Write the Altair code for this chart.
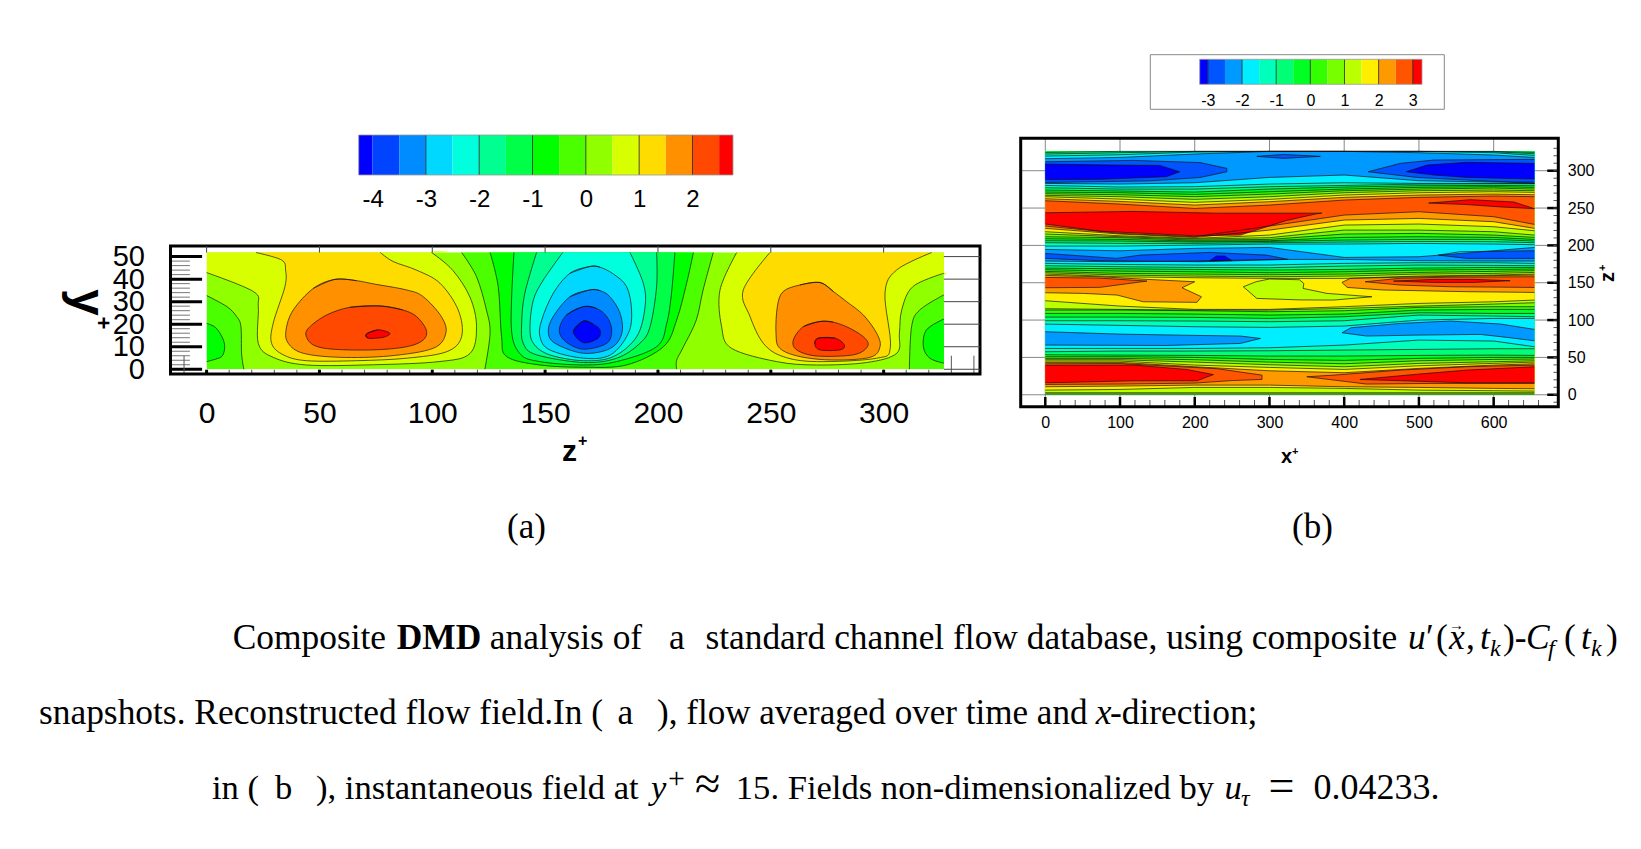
import altair as alt
import pandas as pd

W, H = 1625, 833

# ---------- colour bands ----------
COLORS_A = ["#0000ff", "#0044ff", "#008cff", "#00d8ff", "#00ffdc", "#00ff90", "#00ff48", "#00ff00",
            "#4cff00", "#90ff00", "#d8ff00", "#ffdc00", "#ff9000", "#ff4800", "#ff0000"]
EDGES_A = [-4.26, -4, -3.5, -3, -2.5, -2, -1.5, -1, -0.5, 0, 0.5, 1, 1.5, 2, 2.5, 2.76]
COLORS_B = ["#0000ff", "#0055ff", "#0099ff", "#00eeff", "#00ffbb", "#00ff77", "#00ff22",
            "#33ff00", "#77ff00", "#bbff00", "#ffee00", "#ff9900", "#ff5500", "#ff0000"]
EDGES_B = [-3.24, -3, -2.5, -2, -1.5, -1, -0.5, 0, 0.5, 1, 1.5, 2, 2.5, 3, 3.27]
BAR_TICKS_A = [-4, -3, -2, -1, 0, 1, 2]
BAR_LINES_A = [-3, -2, -1, 0, 1, 2]
BAR_TICKS_B = [-3, -2, -1, 0, 1, 2, 3]

# ---------- panel (a): contour regions, (band, [(z+, y+), ...]) in painting order ----------
A_ZMAX, A_YMAX = 326.7, 51.8
SHAPES_A = [
    (9, [(0, 0), (326.7, 0), (326.7, 51.8), (0, 51.8)]),
    (8, [(0, 32.7), (9, 27.8), (13.3, 23.4), (15.2, 19), (15.5, 7), (16.5, 0), (0, 0)]),
    (7, [(0, 20.4), (4, 18.5), (7, 14), (8, 10), (7, 6), (4, 4.5), (0, 3.4)]),
    (10, [(0, 42.9), (20.7, 34.5), (22.9, 27.8), (22.9, 11.5), (29.5, 5.3), (44.3, 1.9), (73.9, 2), (103, 3.4),
          (116.7, 7), (119.6, 19), (116.7, 32), (109, 44), (99.7, 51.8), (0, 51.8)]),
    (11, [(21.9, 51.8), (33.2, 48.5), (35, 44), (34.7, 36.7), (29.5, 20.4), (28.8, 11.5), (34, 6.4), (44.3, 3.8),
          (66.5, 3.8), (88.6, 4.9), (106.4, 7.8), (113, 14.5), (111.5, 26.3), (103.4, 38.2), (93, 44), (82.7, 47.8),
          (77, 51.8)]),
    (12, [(56.9, 39.9), (47.3, 35.9), (38.4, 26.3), (35.2, 17.5), (36.2, 11.5), (42.8, 7.1), (59, 5.3), (81, 5.9),
          (100.4, 9.3), (106, 16), (104, 23.4), (96, 32.2), (88.6, 35.2), (73.9, 37.9), (66.5, 39.3)]),
    (13, [(76.8, 28.1), (63.5, 27.5), (53.2, 24.1), (45.8, 18.9), (44, 15.2), (47.3, 10.8), (56, 8.9), (73.9, 8.6),
          (88.6, 10), (96, 13), (97.3, 17.5), (93, 23.4), (87, 26.3)]),
    (14, [(70.9, 15.7), (76, 17.5), (81.2, 16), (78.3, 14.2), (71.6, 13.8)]),
    (8, [(113, 51.8), (119.6, 41.1), (124, 26.3), (125.6, 16), (123.3, 0), (208.3, 0), (208.3, 4), (211.3, 10),
         (217, 21.9), (220, 35.2), (224.5, 51.8)]),
    (7, [(125.6, 51.8), (129.2, 36.7), (130.7, 14.5), (133, 5.6), (147.7, 1.9), (167, 0.9), (186, 1.9), (202.4, 10),
         (208.3, 21.9), (212.7, 38.2), (215.7, 51.8)]),
    (6, [(136.2, 51.8), (135, 19), (138.8, 7), (147.7, 3.4), (167, 1.9), (181.7, 3.4), (199.4, 10), (203.9, 20.4),
         (206, 33.7), (207.5, 51.8)]),
    (5, [(146.2, 51.8), (141, 33.7), (139.6, 20.4), (140.3, 11.5), (146.2, 6.4), (167, 3), (181.7, 4.9), (192, 11.5),
         (196.5, 18.9), (199.4, 36.7), (199.4, 51.8)]),
    (4, [(157.8, 51.8), (149.2, 39.6), (144.8, 30.8), (143.3, 18.9), (144.8, 11.5), (152, 6.4), (167, 3.8),
         (180.2, 5.6), (190.6, 14.5), (194.3, 27.8), (193.5, 38.2), (187.6, 51.8)]),
    (3, [(169.8, 45.6), (161, 42.6), (153.6, 33.7), (148.5, 21.9), (147.7, 14.5), (152, 8.6), (167, 4.9), (179, 6.4),
         (186.9, 16), (188.3, 26.3), (186.1, 36.7), (180.2, 42.3), (174.3, 45.3)]),
    (2, [(169.8, 35.2), (161, 32.2), (153.6, 23.4), (151.4, 16.7), (154.4, 11.5), (167, 7.1), (179, 9.3), (184, 16),
         (183.2, 24.9), (178.7, 32.2), (174.3, 34.9)]),
    (1, [(167, 27.8), (159.5, 24.1), (156.3, 17.5), (159, 12.3), (167, 8.9), (177.3, 11.5), (179.5, 17.5),
         (177.3, 23.4), (172.8, 27)]),
    (0, [(166.9, 21.4), (162.5, 16.7), (167, 11.8), (173.5, 13.8), (174.3, 17.5), (171.3, 20)]),
    (10, [(234.9, 51.8), (227.5, 35.2), (228.2, 18.9), (232.6, 9.3), (252.6, 3.4), (270.3, 1.9), (292.5, 3),
          (305.8, 7.1), (307, 16), (308, 26.3), (313, 36.7), (326.7, 42.6), (326.7, 51.8)]),
    (11, [(249.6, 51.8), (237.8, 35.2), (240.8, 23.4), (246.7, 11.5), (255.5, 5.6), (270.3, 3.4), (296.9, 4.9),
          (303, 10), (300.6, 33.7), (305.7, 44), (321.3, 51.8)]),
    (12, [(271.8, 38.5), (262.9, 37.4), (255.5, 34.5), (252.9, 27.8), (252.3, 16), (254, 9.3), (263, 5.6),
          (277.7, 4.1), (294, 5.3), (298.4, 10), (296.9, 16), (291, 24.1), (283.6, 30), (277.7, 34.5)]),
    (13, [(271.8, 21.2), (264.4, 18.9), (260, 13), (261.5, 8.6), (270.3, 5.9), (286.6, 6.4), (292.8, 10),
          (291.7, 13.8), (285, 18.2), (277.7, 20.9)]),
    (14, [(271, 13.8), (278.5, 13.8), (282.6, 10.8), (280.7, 8.6), (271.8, 8.6), (269.5, 11.2)]),
    (8, [(326.7, 33), (316, 26.3), (312.4, 19), (311.4, 0), (326.7, 0)]),
    (7, [(326.7, 22.3), (319, 17.5), (317.6, 10), (320.5, 4.9), (326.7, 2.7)]),
]

# ---------- panel (b): contour curves over x+ columns and closed islands, in painting order ----------
B_XMAX, B_ZMAX = 654.5, 325.9
XCOLS = [0, 100, 200, 300, 400, 500, 600, 654.5]
SHAPES_B = [
    ("base", 7, [0, 0, 0, 0, 0, 0, 0, 0]),
    ("curve", 8, [1, 1, 1, 1, 1, 1, 1, 1]),
    ("curve", 9, [2.7, 2.7, 2.7, 2.7, 2.7, 2.7, 2.7, 2.7]),
    ("curve", 10, [6.2, 7.1, 9.8, 9.8, 8.5, 6.2, 5.4, 4.9]),
    ("curve", 11, [10.7, 11.6, 12.9, 12.9, 10.7, 9.8, 8.5, 8]),
    ("poly", 12, [(0, 13.8), (100, 14.3), (200, 15.6), (250, 19), (290, 20.5), (290, 26.3), (229, 35), (200, 36.5), (100, 41.8), (0, 41.5)]),
    ("poly", 12, [(350, 24.1), (430, 14.3), (520, 15.2), (654.5, 15.2), (654.5, 39.7), (564, 37.5), (475, 33), (386, 26.3)]),
    ("poly", 13, [(0, 39.4), (118, 39.8), (189, 33.9), (225, 27), (203, 18.8), (118, 18.7), (47, 17), (0, 16)]),
    ("poly", 13, [(421, 20.5), (500, 27.7), (564, 33), (654.5, 37.5), (654.5, 16), (564, 16), (475, 18.8)]),
    ("curve", 10, [43.3, 43.3, 37.5, 32.1, 29.5, 35.3, 39.7, 41.5]),
    ("curve", 9, [45.1, 45.1, 39.7, 36.6, 33.9, 38.8, 42, 43.7]),
    ("curve", 8, [46.9, 46.9, 43.7, 40.2, 37.5, 42, 44.2, 45.5]),
    ("curve", 7, [48.7, 48.7, 46.9, 43.7, 41.5, 45.5, 47.3, 47.8]),
    ("curve", 6, [50.9, 50.9, 50, 47.3, 46, 48.7, 50, 50]),
    ("curve", 5, [53.6, 53.1, 52.7, 51.8, 51.8, 52.7, 53.1, 52.7]),
    ("curve", 4, [57.6, 58.5, 58.5, 58.9, 59.8, 60.7, 61.6, 61.6]),
    ("curve", 3, [62, 62, 62, 62.9, 66.5, 73.2, 71.9, 64.3]),
    ("poly", 2, [(0, 84.4), (100, 81.2), (200, 79.5), (261, 78.6), (288, 75.4), (261, 68.7), (162, 66), (0, 66.5)]),
    ("poly", 2, [(397, 83), (409, 89.7), (475, 95.5), (542, 98.7), (609, 94.7), (654.5, 87.5), (654.5, 72.3), (618, 76.8), (582, 80.8), (500, 79.9), (430, 78.6)]),
    ("curve", 4, [94.6, 92.9, 91.1, 90.2, 92, 100, 102.2, 102.2]),
    ("curve", 5, [99.1, 99.1, 98.7, 97.8, 99.1, 106.7, 105.4, 104.5]),
    ("curve", 6, [104, 104, 103.6, 102.2, 104.5, 109.8, 108.9, 108.9]),
    ("curve", 7, [108.9, 108.9, 108, 106.7, 108, 113.4, 114.3, 114.3]),
    ("curve", 8, [113.4, 113.4, 112.5, 111.2, 112.5, 117, 117.9, 117.9]),
    ("curve", 9, [115.2, 114.3, 113.4, 113.4, 115.6, 118.7, 121.4, 123.2]),
    ("curve", 10, [125.9, 118.7, 114.3, 114.3, 117.9, 122.3, 124.5, 126.8]),
    ("poly", 9, [(265, 144.6), (283, 129), (341, 127), (386, 126.8), (437, 131.2), (377, 135.7), (345, 142.4), (346, 149), (340, 154), (300, 155), (282, 151.3)]),
    ("poly", 11, [(0, 136.6), (51, 135.7), (96, 133.5), (131, 124.5), (203, 123.7), (209, 131.2), (183, 143.3), (200, 151.3), (136, 154.5), (73, 158), (0, 159.8)]),
    ("poly", 11, [(397, 150.4), (404, 143.7), (453, 140.2), (500, 139.3), (564, 138), (654.5, 137), (654.5, 160.3), (564, 159), (475, 157.5), (408, 155.8)]),
    ("poly", 12, [(0, 143.3), (73, 143.8), (136, 152.2), (73, 156.2), (0, 157.1)]),
    ("poly", 12, [(428, 151.3), (475, 146.9), (542, 144.6), (654.5, 143.7), (654.5, 158), (542, 157.5), (475, 156)]),
    ("poly", 13, [(466, 152.2), (520, 154.5), (573, 154.5), (622, 152.7), (573, 150.4), (520, 150.4)]),
    ("curve", 9, [161.6, 158, 156.7, 155.8, 155.8, 158.9, 160.3, 161.6]),
    ("curve", 8, [163.4, 160.3, 158.9, 158, 158.9, 161.6, 162.5, 163.8]),
    ("curve", 7, [165.2, 162.5, 161.6, 160.7, 161.6, 163.8, 165.2, 166.1]),
    ("curve", 6, [167.4, 165.6, 164.7, 163.4, 164.7, 167, 167.8, 168.3]),
    ("curve", 5, [169.6, 168.7, 167.8, 167, 167.8, 169.6, 170.5, 170.5]),
    ("curve", 4, [172.8, 171.4, 170.5, 170.1, 172.3, 173.7, 173.2, 172.8]),
    ("curve", 3, [175.9, 174.5, 173.7, 173.7, 175.9, 176.8, 176.8, 175.9]),
    ("curve", 2, [179, 178.1, 179, 181.2, 181.2, 179.5, 179, 179]),
    ("poly", 1, [(0, 189.3), (95.5, 182.6), (127, 187), (220, 190.6), (296, 187), (325, 181.2), (207, 178.1), (73, 179.5), (0, 182.6)]),
    ("poly", 0, [(220, 179.5), (229, 185.7), (240, 185.7), (250, 179.5)]),
    ("poly", 1, [(526, 187), (555, 191.5), (654.5, 192.8), (654.5, 182.6), (564, 182.6)]),
    ("curve", 3, [194.6, 192.8, 196, 197.3, 183.9, 184.8, 192.8, 197.3]),
    ("curve", 4, [199.1, 199.1, 200.4, 201.8, 201.8, 202.7, 201.8, 200.9]),
    ("curve", 5, [203.6, 202.7, 202.7, 203.6, 204.5, 205.3, 204.9, 203.6]),
    ("curve", 6, [206.2, 205.8, 204.5, 205.3, 207.1, 208, 208, 205.8]),
    ("curve", 7, [208.9, 208, 205.8, 206.2, 210.7, 211.6, 210.7, 208]),
    ("curve", 8, [211.6, 210.3, 207.1, 208, 215.2, 216.1, 213.8, 210.7]),
    ("curve", 9, [215.2, 211.6, 208.5, 210.3, 220.5, 220.5, 218.3, 213.8]),
    ("curve", 10, [218.3, 212.9, 209.4, 213.8, 227.2, 228.6, 225, 219.6]),
    ("curve", 11, [222.8, 215.2, 210.7, 220.5, 233.9, 236.1, 231.7, 222.8]),
    ("curve", 12, [225.9, 216.1, 211.6, 225.9, 240.6, 245.1, 238.4, 228.1]),
    ("poly", 13, [(0, 243.7), (118, 245.5), (229, 243.2), (363, 243.2), (370, 243.2), (363, 242.3), (323, 233.4), (261, 213.8), (200, 212.9), (73, 219), (0, 228.6)]),
    ("poly", 13, [(513, 256.7), (569, 261.2), (627, 258.1), (654.5, 249.2), (609, 251.5), (564, 254.7)]),
    ("curve", 11, [259.8, 255.3, 249.5, 254, 260.7, 264.3, 266.1, 265.2]),
    ("curve", 10, [262.5, 258.9, 254, 258.5, 264.3, 267.4, 268.7, 267.8]),
    ("curve", 9, [265.2, 262, 257.6, 261.6, 267.4, 270.5, 271.9, 271]),
    ("curve", 8, [267, 265.2, 261.6, 265.2, 270.5, 273.2, 274.1, 273.2]),
    ("curve", 7, [269.2, 267.8, 265.2, 268.7, 273.2, 275.4, 276.8, 275.4]),
    ("curve", 6, [271.4, 270.5, 268.3, 271.9, 275.4, 277.7, 278.6, 277.7]),
    ("curve", 5, [274.1, 272.8, 271.4, 275.4, 278.1, 279.9, 280.3, 279.9]),
    ("curve", 4, [277.2, 275.4, 275.4, 278.6, 280.3, 282.1, 282.6, 282.6]),
    ("curve", 3, [280.3, 278.1, 278.6, 282.1, 283.9, 283, 283, 283]),
    ("curve", 2, [283, 282.1, 283.9, 291, 294.2, 286.6, 284.8, 284.8]),
    ("poly", 1, [(0, 312), (118, 313.8), (207, 310.9), (243, 303.1), (243, 298.6), (207, 290.9), (140, 286.4), (0, 284.2)]),
    ("poly", 0, [(0, 308.9), (91, 307.6), (153, 307.1), (180, 298.6), (162, 292), (73, 288.4), (0, 287.9)]),
    ("poly", 1, [(432, 298.6), (475, 309.8), (520, 314.3), (654.5, 315.2), (654.5, 283), (564, 287.5), (497, 291)]),
    ("poly", 0, [(483, 298.6), (511, 307.6), (564, 311.2), (654.5, 309.8), (654.5, 288.8), (564, 291), (520, 294.2)]),
    ("poly", 1, [(283, 319.2), (319, 321.8), (368, 319.2), (319, 316.5)]),
    ("curve", 3, [316.1, 317.8, 322.3, 325.9, 325.9, 324.1, 321, 317.8]),
    ("curve", 4, [319.6, 321.4, 325, 325.9, 325.9, 325.9, 324.1, 320.5]),
    ("curve", 5, [322.3, 324.1, 325.9, 325.9, 325.9, 325.9, 325.4, 322.7]),
    ("curve", 6, [324.5, 325.9, 325.9, 325.9, 325.9, 325.9, 325.9, 324.5]),
]

# ---------- tick values ----------
A_X_MAJOR = [0, 50, 100, 150, 200, 250, 300]
A_X_MINOR = list(range(10, 330, 10))
A_X_OUT = [-10, 330, 340]
A_Y_MAJOR = [0, 10, 20, 30, 40, 50]
A_Y_MINOR = list(range(2, 52, 2))
B_X_MAJOR = [0, 100, 200, 300, 400, 500, 600]
B_X_MINOR = list(range(20, 680, 20))
B_Y_MAJOR = [0, 50, 100, 150, 200, 250, 300]
B_Y_MINOR = list(range(-10, 340, 10))

# ---------- texts ----------
SERIF = "Liberation Serif"
SANS = "Liberation Sans"
C1 = 35.4
C2 = 35.1
C3 = 34.6
TEXTS = [
    # text, page x, page y, size, weight, style, font, angle
    ("Composite", 232.7, 649, C1, "normal", "normal", SERIF, 0),
    ("DMD", 396.7, 649, C1, "bold", "normal", SERIF, 0),
    ("analysis of", 489.8, 649, C1, "normal", "normal", SERIF, 0),
    ("a", 669, 649, C1, "normal", "normal", SERIF, 0),
    ("standard channel flow database, using composite", 705.4, 649, C1, "normal", "normal", SERIF, 0),
    ("u", 1408, 649, C1, "normal", "italic", SERIF, 0),
    ("′", 1426, 649, C1, "normal", "normal", SERIF, 0),
    ("(", 1436, 649, C1, "normal", "normal", SERIF, 0),
    ("x", 1449, 649, C1, "normal", "italic", SERIF, 0),
    ("→", 1449, 630, 15, "normal", "normal", SERIF, 0),
    (",", 1466, 649, C1, "normal", "normal", SERIF, 0),
    ("t", 1480, 649, C1, "normal", "italic", SERIF, 0),
    ("k", 1490, 656, 24, "normal", "italic", SERIF, 0),
    (")-", 1503, 649, C1, "normal", "normal", SERIF, 0),
    ("C", 1526, 649, C1, "normal", "italic", SERIF, 0),
    ("f", 1548, 656, 24, "normal", "italic", SERIF, 0),
    ("(", 1564, 649, C1, "normal", "normal", SERIF, 0),
    ("t", 1581, 649, C1, "normal", "italic", SERIF, 0),
    ("k", 1591, 656, 24, "normal", "italic", SERIF, 0),
    (")", 1606, 649, C1, "normal", "normal", SERIF, 0),
    ("snapshots. Reconstructed flow field.In (", 39, 724, C1, "normal", "normal", SERIF, 0),
    ("a", 617.5, 724, C1, "normal", "normal", SERIF, 0),
    ("), flow averaged over time and", 657, 724, C2, "normal", "normal", SERIF, 0),
    ("x", 1095.8, 724, C1, "normal", "italic", SERIF, 0),
    ("-direction;", 1110, 724, C1, "normal", "normal", SERIF, 0),
    ("in (", 212, 799, C3, "normal", "normal", SERIF, 0),
    ("b", 275, 799, C3, "normal", "normal", SERIF, 0),
    ("), instantaneous field at", 316, 799, C3, "normal", "normal", SERIF, 0),
    ("y", 651, 799, C3, "normal", "italic", SERIF, 0),
    ("+", 668, 788, 30, "normal", "normal", SERIF, 0),
    ("≈", 695, 799, 46, "normal", "normal", SERIF, 0),
    ("15. Fields non-dimensionalized by", 735.8, 799, C3, "normal", "normal", SERIF, 0),
    ("u", 1224.5, 799, C3, "normal", "italic", SERIF, 0),
    ("τ", 1241, 806, 24, "normal", "italic", SERIF, 0),
    ("=", 1268.5, 801, 46, "normal", "normal", SERIF, 0),
    ("0.04233.", 1313.5, 799, 36, "normal", "normal", SERIF, 0),
    ("(a)", 507, 538, 35, "normal", "normal", SERIF, 0),
    ("(b)", 1292, 538, 35, "normal", "normal", SERIF, 0),
    ("z", 562, 461, 30, "bold", "normal", SANS, 0),
    ("+", 578, 446, 16, "bold", "normal", SANS, 0),
    ("x", 1281, 463, 20, "bold", "normal", SANS, 0),
    ("+", 1292, 455, 11, "bold", "normal", SANS, 0),
    ("y", 72, 289, 48, "bold", "normal", SANS, 90),
    ("+", 96, 316.6, 22, "bold", "normal", SANS, 90),
    ("z", 1614, 282, 20, "bold", "normal", SANS, 270),
    ("+", 1605.6, 271, 11, "bold", "normal", SANS, 270),
]


# ---------- helpers ----------
def scale(dom, rng):
    return alt.Scale(domain=dom, range=rng, nice=False, zero=False)


def build(shapes, xmax, ymax, smooth):
    """Fill outlines and open contour runs; region edges are never stroked."""
    def on(p):
        return p[0] in (0, xmax) or p[1] in (0, ymax)

    def edge(p, q):
        return (p[0] == q[0] and p[0] in (0, xmax)) or (p[1] == q[1] and p[1] in (0, ymax))

    fills, lines = [], []
    path = 0
    for sid, (kind, band, raw) in enumerate(shapes):
        pts = list(raw) if kind == "poly" else list(zip(XCOLS, raw))
        closed = kind == "poly"
        fill_pts = list(pts) if closed else pts + [(xmax, ymax), (0, ymax)]
        touches = closed and any(edge(fill_pts[i], fill_pts[(i + 1) % len(fill_pts)]) for i in range(len(fill_pts)))
        if smooth:
            if touches:
                fill_pts = [q for p in fill_pts for q in ([p, p] if on(p) else [p])]
            else:
                fill_pts = [fill_pts[-1]] + fill_pts + fill_pts[:2]
        for i, (a, b) in enumerate(fill_pts):
            fills.append({"s": sid, "i": i, "a": a, "b": b, "band": band})
        if kind == "base":
            continue
        if not closed:
            runs = [pts]
        elif not touches:
            runs = [([pts[-1]] + pts + pts[:2]) if smooth else pts + pts[:1]]
        else:
            n = len(pts)
            start = next(i for i in range(n) if edge(pts[i - 1], pts[i]))
            cyc = [pts[(start + i) % n] for i in range(n + 1)]
            runs, cur = [], [cyc[0]]
            for p, q in zip(cyc, cyc[1:]):
                if edge(p, q):
                    if len(cur) > 1:
                        runs.append(cur)
                    cur = [q]
                else:
                    cur.append(q)
            if len(cur) > 1:
                runs.append(cur)
        for run in runs:
            path += 1
            for i, (a, b) in enumerate(run):
                lines.append({"p": path, "i": i, "a": a, "b": b})
    lines_df = pd.DataFrame(lines, columns=["p", "i", "a", "b"])
    return pd.DataFrame(fills), lines_df


def contour_layers(shapes, xmax, ymax, sx, sy, colors, smooth):
    f, l = build(shapes, xmax, ymax, smooth)
    bands = list(range(len(colors)))
    interp = "cardinal" if smooth else "linear"
    fill = alt.Chart(f).mark_line(strokeWidth=0, interpolate=interp).encode(
        x=alt.X("a:Q", scale=sx, axis=None),
        y=alt.Y("b:Q", scale=sy, axis=None),
        fill=alt.Fill("band:N", scale=alt.Scale(domain=bands, range=colors), legend=None),
        detail="s:N",
        order="i:Q",
    )
    line = alt.Chart(l).mark_line(stroke="#111111", strokeWidth=0.8, opacity=0.85, interpolate=interp).encode(
        x=alt.X("a:Q", scale=sx, axis=None),
        y=alt.Y("b:Q", scale=sy, axis=None),
        detail="p:N",
        order="i:Q",
    )
    return fill, line


def vrules(xs, y0, y1, sx, sy, width, color):
    d = pd.DataFrame({"x": xs, "y": y0, "y2": y1})
    return alt.Chart(d).mark_rule(strokeWidth=width, color=color).encode(
        x=alt.X("x:Q", scale=sx, axis=None), y=alt.Y("y:Q", scale=sy, axis=None), y2="y2:Q")


def hrules(ys, x0, x1, sx, sy, width, color):
    d = pd.DataFrame({"y": ys, "x": x0, "x2": x1})
    return alt.Chart(d).mark_rule(strokeWidth=width, color=color).encode(
        y=alt.Y("y:Q", scale=sy, axis=None), x=alt.X("x:Q", scale=sx, axis=None), x2="x2:Q")


def frame(x0, x1, y0, y1, sx, sy, width, color):
    d = pd.DataFrame({"x": [x0], "x2": [x1], "y": [y0], "y2": [y1]})
    return alt.Chart(d).mark_rect(fill="transparent", stroke=color, strokeWidth=width).encode(
        x=alt.X("x:Q", scale=sx, axis=None), x2="x2:Q", y=alt.Y("y:Q", scale=sy, axis=None), y2="y2:Q")


def margins(x0, x1, y0, y1, sx, sy):
    """White left and bottom margin of the frame, next to the data region."""
    d = pd.DataFrame({"x": [x0, x0], "x2": [0, x1], "y": [y0, y0], "y2": [y1, 0]})
    return alt.Chart(d).mark_rect(fill="#ffffff").encode(
        x=alt.X("x:Q", scale=sx, axis=None), x2="x2:Q", y=alt.Y("y:Q", scale=sy, axis=None), y2="y2:Q")


def num_axis(values, orient, offset, size, pad):
    return alt.Axis(values=values, orient=orient, offset=offset, title=None, grid=False, domain=False, ticks=False,
                    labelFontSize=size, labelFont=SANS, labelColor="#000000", labelPadding=pad,
                    labelOverlap=False, labelFlush=False, labelExpr="'' + datum.value")


def axis_x(values, sx, offset, size, pad):
    return alt.Chart(pd.DataFrame({"x": values})).mark_point(opacity=0).encode(
        x=alt.X("x:Q", scale=sx, axis=num_axis(values, "bottom", offset, size, pad)), y=alt.value(0))


def axis_y(values, sy, orient, offset, size, pad):
    return alt.Chart(pd.DataFrame({"y": values})).mark_point(opacity=0).encode(
        y=alt.Y("y:Q", scale=sy, axis=num_axis(values, orient, offset, size, pad)), x=alt.value(0))


def colorbar(edges, colors, line_vals, sx, top, bottom):
    d = pd.DataFrame({"x": edges[:-1], "x2": edges[1:], "band": list(range(len(colors)))})
    rects = alt.Chart(d).mark_rect().encode(
        x=alt.X("x:Q", scale=sx, axis=None),
        x2="x2:Q",
        y=alt.value(top), y2=alt.value(bottom),
        fill=alt.Fill("band:N", scale=alt.Scale(domain=d["band"].tolist(), range=colors), legend=None),
    )
    lines = alt.Chart(pd.DataFrame({"x": line_vals})).mark_rule(color="#222222", strokeWidth=0.8).encode(
        x=alt.X("x:Q", scale=sx, axis=None), y=alt.value(top), y2=alt.value(bottom))
    edge = alt.Chart(pd.DataFrame({"x": [edges[0]], "x2": [edges[-1]]})).mark_rect(
        fill="transparent", stroke="#999999", strokeWidth=0.8).encode(
        x=alt.X("x:Q", scale=sx, axis=None), x2="x2:Q", y=alt.value(top), y2=alt.value(bottom))
    return alt.layer(rects, lines, edge)


# ---------- panel (a) ----------
ax0, ax1, ay0, ay1 = -16, 342.7, -2.1, 54.7
sxa = scale([ax0, ax1], [162.5, 972])
sya = scale([ay0, ay1], [366, 238])
shapes_a = [("poly", b, p) for b, p in SHAPES_A]
fa0, _ = contour_layers(shapes_a[:1], A_ZMAX, A_YMAX, sxa, sya, COLORS_A, False)
fa, la = contour_layers(shapes_a[1:], A_ZMAX, A_YMAX, sxa, sya, COLORS_A, True)
panel_a = alt.layer(
    fa0, fa,
    margins(ax0, ax1, ay0, ay1, sxa, sya),
    hrules(A_Y_MINOR, ax0, -7.4, sxa, sya, 1, "#777777"),
    la,
    hrules(A_Y_MAJOR, ax0, -2, sxa, sya, 3, "#000000"),
    vrules(A_X_MINOR, ay0, -0.2, sxa, sya, 1, "#555555"),
    vrules(A_X_OUT, ay0, 6, sxa, sya, 1, "#555555"),
    vrules(A_X_MAJOR, ay0, -0.2, sxa, sya, 3, "#000000"),
    frame(ax0, ax1, ay0, ay1, sxa, sya, 3, "#000000"),
)
# grid of panel (a), visible only outside the data region
grid_a = alt.layer(
    hrules(A_Y_MAJOR, A_ZMAX, ax1, sxa, sya, 1, "#444444"),
    vrules(A_X_MAJOR, A_YMAX, ay1, sxa, sya, 1, "#444444"),
)

# ---------- panel (b) ----------
bx0, bx1, by0, by1 = -32.9, 686.5, -16, 343.4
sxb = scale([bx0, bx1], [1012.7, 1550.3])
syb = scale([by0, by1], [398.7, 130.3])
fb, lb = contour_layers(SHAPES_B, B_XMAX, B_ZMAX, sxb, syb, COLORS_B, False)
panel_b = alt.layer(
    vrules(B_X_MAJOR, by0, by1, sxb, syb, 1, "#888888"),
    hrules(B_Y_MAJOR, bx0, bx1, sxb, syb, 1, "#888888"),
    fb, lb,
    hrules(B_Y_MAJOR, 671.7, bx1, sxb, syb, 2.5, "#000000"),
    hrules(B_Y_MINOR, 680, bx1, sxb, syb, 1, "#555555"),
    vrules(B_X_MINOR, by0, -7, sxb, syb, 1, "#555555"),
    vrules(B_X_MAJOR, by0, -3, sxb, syb, 2.5, "#000000"),
    frame(bx0, bx1, by0, by1, sxb, syb, 3, "#000000"),
)

# ---------- colour bars ----------
sxba = scale([EDGES_A[0], EDGES_A[-1]], [350.7, 725])
sxbb = scale([EDGES_B[0], EDGES_B[-1]], [1191.7, 1414])
bar_a = colorbar(EDGES_A, COLORS_A, BAR_LINES_A, sxba, 127, 167)
bar_b = colorbar(EDGES_B, COLORS_B, BAR_TICKS_B, sxbb, 51.3, 76.3)
bar_b_box = alt.Chart(pd.DataFrame({"x": [0]})).mark_rect(fill="transparent", stroke="#888888", strokeWidth=1).encode(
    x=alt.value(1142.3), x2=alt.value(1436.3), y=alt.value(46.7), y2=alt.value(101.3))

# ---------- page texts ----------
tdf = pd.DataFrame(TEXTS, columns=["t", "x", "y", "size", "weight", "style", "font", "angle"])
tdf["x"] -= 8
tdf["y"] -= 8
sxp = scale([0, W], [0, W])
syp = scale([0, H], [0, H])
text_layers = []
for (size, weight, style, font, angle), g in tdf.groupby(["size", "weight", "style", "font", "angle"]):
    text_layers.append(
        alt.Chart(g[["t", "x", "y"]]).mark_text(
            align="left", baseline="alphabetic", fontSize=size, fontWeight=weight, fontStyle=style, font=font,
            angle=angle, color="#000000").encode(
            x=alt.X("x:Q", scale=sxp, axis=None), y=alt.Y("y:Q", scale=syp, axis=None), text="t:N"))
texts = alt.layer(*text_layers)

chart = alt.layer(
    panel_a, grid_a, panel_b, bar_a, bar_b, bar_b_box, texts,
    axis_x(A_X_MAJOR, sxa, 366 - H, 30, 24),
    axis_y(A_Y_MAJOR, sya, "left", -162.5, 29, 26),
    axis_x(B_X_MAJOR, sxb, 398.7 - H, 16, 8),
    axis_y(B_Y_MAJOR, syb, "right", 1550.3 - W, 16, 9),
    axis_x(BAR_TICKS_A, sxba, 167 - H, 24, 12),
    axis_x(BAR_TICKS_B, sxbb, 76.3 - H, 16, 8),
).resolve_scale(
    x="independent", y="independent", fill="independent"
).resolve_axis(x="independent", y="independent").properties(
    width=W, height=H, padding=0, autosize=alt.AutoSizeParams(type="none")
).configure_view(stroke=None)

chart.save("out.html", embed_options={"renderer": "svg", "actions": False})
